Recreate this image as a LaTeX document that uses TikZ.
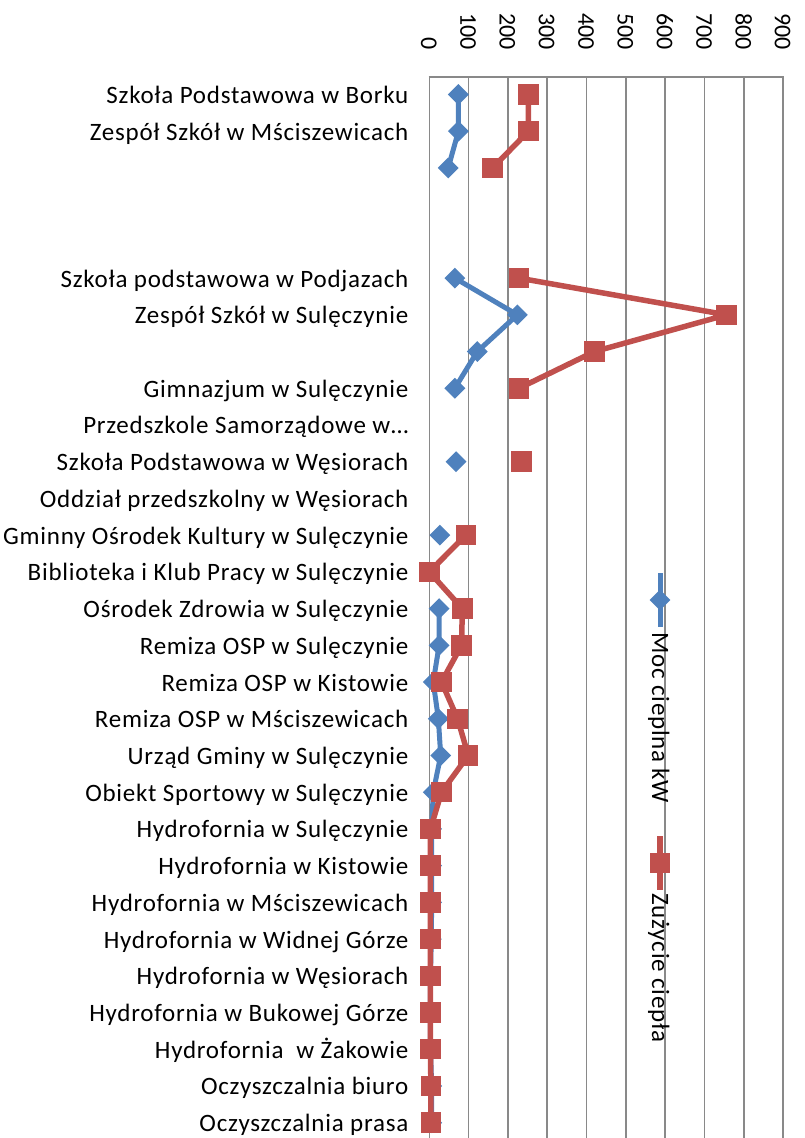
\documentclass[tikz,border=0pt]{standalone}
\usepackage{fontspec}
\setmainfont{Carlito}[LetterSpace=3]
\newfontfamily\tickfont{Carlito}
\usetikzlibrary{shapes.geometric}
\definecolor{mocblue}{RGB}{79,129,189}
\definecolor{zuzred}{RGB}{192,80,77}
\definecolor{gridgray}{RGB}{137,137,137}
\tikzset{
  catlabel/.style={anchor=base east, inner sep=0pt, font=\fontsize{25}{29}\selectfont},
  ticklabel/.style={anchor=base east, rotate=-90, inner sep=0pt, font=\tickfont\fontsize{24}{28}\selectfont},
  legendlabel/.style={anchor=base west, rotate=-90, inner sep=0pt, font=\fontsize{25}{29}\selectfont},
  gridline/.style={gridgray, line width=1.6pt},
  mocline/.style={mocblue, line width=5pt, line join=round},
  zuzline/.style={zuzred, line width=5.5pt, line join=round},
  mocmark/.style={diamond, fill=mocblue, minimum width=21pt, minimum height=21pt, inner sep=0pt},
  zuzmark/.style={rectangle, fill=zuzred, minimum size=20.5pt, inner sep=0pt}
}
\newcommand{\rowy}[1]{94.5+(#1-1)*36.72}
\newcommand{\valx}[1]{429.3+0.3933*#1}
\begin{document}
\begin{tikzpicture}[x=1pt, y=-1pt]
\useasboundingbox (0,0) rectangle (804,1138);
% grid and value axis
\foreach \i in {0,...,9} {
  \draw[gridline] ({429.3+39.33*\i},76.7) -- ({429.3+39.33*\i},1138);
  \pgfmathtruncatemacro{\tick}{100*\i}
  \node[ticklabel] (tick\i) at ({429.3+39.33*\i-8.3},50) {\tick};
}
\draw[gridline] (428.5,76.7) -- (784.1,76.7);
% categories
\foreach \r/\t in {1/Szkoła Podstawowa w Borku, 2/Zespół Szkół w Mściszewicach,
  6/Szkoła podstawowa w Podjazach, 7/Zespół Szkół w Sulęczynie,
  9/Gimnazjum w Sulęczynie, 10/Przedszkole Samorządowe w…,
  11/Szkoła Podstawowa w Węsiorach, 12/Oddział przedszkolny w Węsiorach,
  13/Gminny Ośrodek Kultury w Sulęczynie, 14/Biblioteka i Klub Pracy w Sulęczynie,
  15/Ośrodek Zdrowia w Sulęczynie, 16/Remiza OSP w Sulęczynie,
  17/Remiza OSP w Kistowie, 18/Remiza OSP w Mściszewicach,
  19/Urząd Gminy w Sulęczynie, 20/Obiekt Sportowy w Sulęczynie,
  21/Hydrofornia w Sulęczynie, 22/Hydrofornia w Kistowie,
  23/Hydrofornia w Mściszewicach, 24/Hydrofornia w Widnej Górze,
  25/Hydrofornia w Węsiorach, 26/Hydrofornia w Bukowej Górze,
  27/Hydrofornia\ \ w Żakowie, 28/Oczyszczalnia biuro, 29/Oczyszczalnia prasa}
  \node[catlabel] (cat\r) at (408.5,{\rowy{\r}+9}) {\t};
% data points
\foreach \r/\v in {1/74,2/74,3/48,6/65,7/224,8/122,9/65,11/68,13/27,
  15/25,16/25,17/10,18/23,19/29,20/10,21/6,22/6,23/6,24/5,25/3,26/3,27/3,28/6,29/6}
  \coordinate (moc\r) at ({\valx{\v}},{\rowy{\r}});
\foreach \r/\v in {1/252,2/252,3/161,6/228,7/756,8/420,9/228,11/235,
  13/93,14/0,15/84,16/82,17/31,18/72,19/99,20/31,21/3,22/3,23/3,24/3,25/3,26/3,27/3,28/4,29/4}
  \coordinate (zuz\r) at ({\valx{\v}},{\rowy{\r}});
% Moc cieplna kW
\draw[mocline] (moc1) -- (moc2) -- (moc3);
\draw[mocline] (moc6) -- (moc7) -- (moc8) -- (moc9);
\draw[mocline] (moc15) \foreach \r in {16,...,29} {-- (moc\r)};
\foreach \r in {1,2,3,6,7,8,9,11,13,15,16,...,29}
  \node[mocmark] (mocm\r) at (moc\r) {};
% Zuzycie ciepla
\draw[zuzline] (zuz1) -- (zuz2) -- (zuz3);
\draw[zuzline] (zuz6) -- (zuz7) -- (zuz8) -- (zuz9);
\draw[zuzline] (zuz13) \foreach \r in {14,...,29} {-- (zuz\r)};
\foreach \r in {1,2,3,6,7,8,9,11,13,14,...,29}
  \node[zuzmark] (zuzm\r) at (zuz\r) {};
% legend
\coordinate (legmoctop) at (660,573);
\coordinate (legmocbot) at (660,627);
\draw[mocline] (legmoctop) -- (legmocbot);
\node[mocmark] (legmoc) at (660,600) {};
\node[legendlabel] (legmoctext) at (652,632) {Moc cieplna kW};
\coordinate (legzuztop) at (660,836);
\coordinate (legzuzbot) at (660,890);
\draw[zuzline] (legzuztop) -- (legzuzbot);
\node[zuzmark] (legzuz) at (660,863) {};
\node[legendlabel] (legzuztext) at (652,893) {Zużycie ciepła};
\end{tikzpicture}
\end{document}
